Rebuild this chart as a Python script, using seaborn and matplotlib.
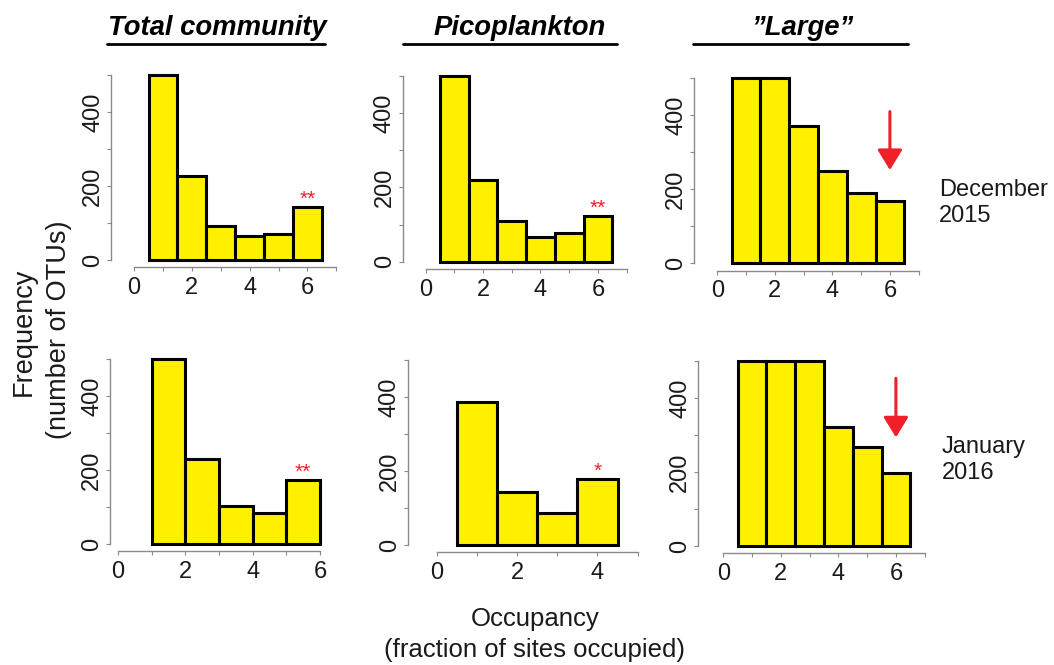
import numpy as np
import pandas as pd
import matplotlib
matplotlib.use("Agg")
import matplotlib.pyplot as plt
from matplotlib.lines import Line2D
import seaborn as sns

# ---------------- data ----------------
COLUMN_TITLES = ["Total community", "Picoplankton", "\u201dLarge\u201d"]
ROW_LABELS = ["December\n2015", "January\n2016"]

# occupancy class (bar centre) and frequency (number of OTUs)
TC_DEC_OCC = [1, 2, 3, 4, 5, 6]
TC_DEC_FREQ = [500, 228, 91, 65, 71, 143]
PICO_DEC_OCC = [1, 2, 3, 4, 5, 6]
PICO_DEC_FREQ = [500, 220, 110, 66, 76, 123]
LARGE_DEC_OCC = [1, 2, 3, 4, 5, 6]
LARGE_DEC_FREQ = [500, 500, 372, 250, 191, 168]

TC_JAN_OCC = [1.5, 2.5, 3.5, 4.5, 5.5]
TC_JAN_FREQ = [500, 230, 103, 85, 173]
PICO_JAN_OCC = [1, 2, 3, 4]
PICO_JAN_FREQ = [387, 144, 86, 179]
LARGE_JAN_OCC = [1, 2, 3, 4, 5, 6]
LARGE_JAN_FREQ = [500, 500, 500, 321, 269, 197]

# significance marks: (panel, text, bar index)
STARS = {"tc_dec": ("**", 5), "pico_dec": ("**", 5), "tc_jan": ("**", 4), "pico_jan": ("*", 3)}
# arrows on "Large" panels: x, tail value, tip value
ARROWS = {"large_dec": (6, 410, 252), "large_jan": (6, 454, 294)}

X_MAX = {"tc_dec": 7, "pico_dec": 7, "large_dec": 7, "tc_jan": 6, "pico_jan": 5, "large_jan": 7}
Y_TICKS = [0, 100, 200, 300, 400, 500]

# ---------------- style ----------------
sns.set_style("white")
plt.rcParams["font.family"] = ["Liberation Sans", "DejaVu Sans"]

W, H = 1054, 665
fig = plt.figure(figsize=(W / 100, H / 100), dpi=100)

YELLOW = "#FFF000"
RED = "#F0202A"
GRAY = "#8a8a8a"
TXT = "#1a1a1a"

# panel geometry in pixels: left, top, width, bottom, xlim
panels = {
    "tc_dec":    dict(px=(111, 67.6, 234, 267.4), xlim=(-0.8, 7.3), occ=TC_DEC_OCC, freq=TC_DEC_FREQ),
    "pico_dec":  dict(px=(402.7, 68.6, 232.5, 269.1), xlim=(-0.8, 7.3), occ=PICO_DEC_OCC, freq=PICO_DEC_FREQ),
    "large_dec": dict(px=(694.3, 70.9, 233, 270.7), xlim=(-0.8, 7.3), occ=LARGE_DEC_OCC, freq=LARGE_DEC_FREQ),
    "tc_jan":    dict(px=(110, 351.6, 218, 551.4), xlim=(-0.24, 6.24), occ=TC_JAN_OCC, freq=TC_JAN_FREQ),
    "pico_jan":  dict(px=(407.7, 353, 238.8, 552.4), xlim=(-0.72, 5.22), occ=PICO_JAN_OCC, freq=PICO_JAN_FREQ),
    "large_jan": dict(px=(698.3, 353.9, 235, 553.4), xlim=(-0.87, 7.3), occ=LARGE_JAN_OCC, freq=LARGE_JAN_FREQ),
}

for key, p in panels.items():
    l, t, w, b = p["px"]
    ax = fig.add_axes([l / W, 1 - b / H, w / W, (b - t) / H])
    occ = np.asarray(p["occ"], dtype=float)
    freq = np.asarray(p["freq"], dtype=float)
    edges = list(np.append(occ - 0.5, occ[-1] + 0.5))
    df = pd.DataFrame({"occ": occ, "freq": freq})
    sns.histplot(data=df, x="occ", weights="freq", bins=edges, ax=ax, color=YELLOW,
                 edgecolor="black", linewidth=2.2, alpha=1, stat="count")
    ax.set_xlim(*p["xlim"])
    ax.set_ylim(-20, 520)
    ax.set_xlabel("")
    ax.set_ylabel("")
    for s in ["top", "right"]:
        ax.spines[s].set_visible(False)
    xmax = X_MAX[key]
    ax.spines["left"].set_bounds(0, 500)
    ax.spines["bottom"].set_bounds(0, xmax)
    for s in ["left", "bottom"]:
        ax.spines[s].set_color(GRAY)
        ax.spines[s].set_linewidth(1.0)
    xt = list(range(0, xmax + 1))
    ax.set_xticks(xt)
    ax.set_xticklabels([str(v) if v % 2 == 0 else "" for v in xt])
    ax.set_yticks(Y_TICKS)
    ax.set_yticklabels([str(v) if v % 200 == 0 else "" for v in Y_TICKS],
                       rotation=90, va="center")
    ax.tick_params(axis="both", direction="out", length=3, width=0.8, color=GRAY,
                   labelcolor=TXT, left=True, bottom=True)
    ax.tick_params(axis="x", pad=4, labelsize=17)
    ax.tick_params(axis="y", pad=2, labelsize=17)
    ax.grid(False)

    if key in STARS:
        txt, idx = STARS[key]
        ax.text(occ[idx], freq[idx] + 6, txt, color=RED, fontsize=15,
                ha="center", va="baseline")
    if key in ARROWS:
        ax_x, tail, tip = ARROWS[key]
        ax.annotate("", xy=(ax_x, tip), xytext=(ax_x, tail),
                    arrowprops=dict(arrowstyle="-|>,head_length=0.62,head_width=0.38",
                                    mutation_scale=20, color=RED, lw=2.2,
                                    shrinkA=0, shrinkB=0))

# column titles with underline
title_specs = [(217, 107, 325), (520, 403, 617), (803, 693, 908)]
for title, (cx, x0, x1) in zip(COLUMN_TITLES, title_specs):
    fig.text(cx / W, 1 - 28 / H, title, ha="center", va="center", fontsize=19.8,
             fontweight="bold", fontstyle="italic", color="black")
    fig.add_artist(Line2D([x0 / W, x1 / W], [1 - 43.5 / H, 1 - 43.5 / H],
                          color="black", lw=2.0))

# row labels
fig.text(939 / W, 1 - 203 / H, ROW_LABELS[0], ha="left", va="center", fontsize=17,
         color=TXT, linespacing=1.2)
fig.text(942 / W, 1 - 460 / H, ROW_LABELS[1], ha="left", va="center", fontsize=17,
         color=TXT, linespacing=1.2)

# shared axis labels
fig.text(24 / W, 1 - 332 / H, "Frequency", rotation=90,
         ha="center", va="center", fontsize=19.5, color=TXT)
fig.text(59 / W, 1 - 330 / H, "(number of OTUs)", rotation=90,
         ha="center", va="center", fontsize=19.5, color=TXT)
fig.text(535 / W, 1 - 619 / H, "Occupancy",
         ha="center", va="center", fontsize=18.5, color=TXT)
fig.text(535 / W, 1 - 650 / H, "(fraction of sites occupied)",
         ha="center", va="center", fontsize=18.5, color=TXT)

fig.savefig("out.png", dpi=100)
